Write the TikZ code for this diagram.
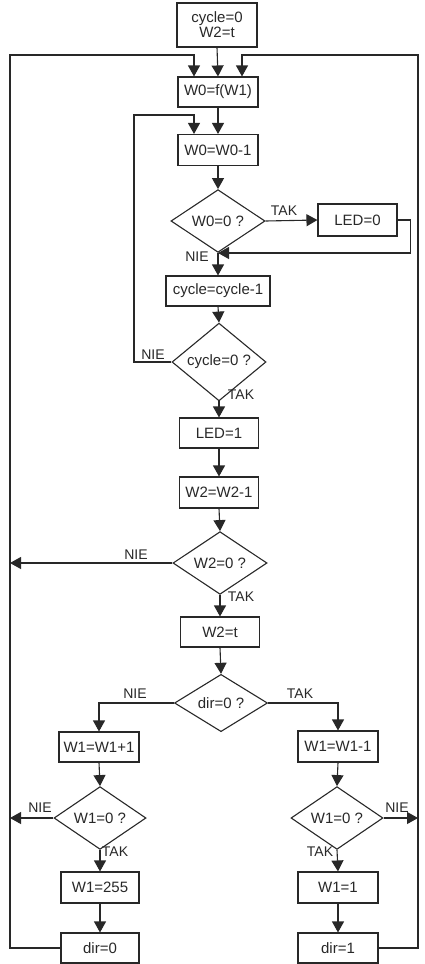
\documentclass[tikz,border=0pt]{standalone}
\usepackage{fontspec}
\setmainfont{Liberation Sans}
\usetikzlibrary{shapes.geometric,arrows.meta}
\definecolor{ink}{RGB}{40,40,40}
\tikzset{
  box/.style={draw=ink, line width=1.1pt, rectangle, minimum width=80pt, minimum height=30pt, inner sep=0pt, text=ink, font=\fontsize{15}{17}\selectfont},
  cond/.style={draw=ink, line width=1.1pt, diamond, minimum width=94pt, minimum height=51pt, inner sep=0pt, text=ink, font=\fontsize{15}{17}\selectfont},
  arr/.style={draw=ink, line width=1.1pt, -{Triangle[width=12pt,length=11pt]}},
  ln/.style={draw=ink, line width=1.1pt},
  lbl/.style={text=ink, font=\fontsize{14}{16}\selectfont, inner sep=0pt}
}
\begin{document}
\begin{tikzpicture}[x=1pt,y=-1pt]
\useasboundingbox[fill=white] (0,0) rectangle (424,964);
% nodes
\node[box, minimum height=44pt, align=center] (start) at (217,25) {cycle=0\\[-2pt]W2=t};
\node[box] (f) at (218,92) {W0=f(W1)};
\node[box, minimum height=31pt] (dec0) at (218,150) {W0=W0-1};
\node[cond, minimum height=52pt] (d1) at (218,221) {W0=0 ?};
\node[box, minimum width=79pt, minimum height=32pt] (led0) at (357.5,220) {LED=0};
\node[box, minimum width=104pt] (cyc) at (218,291) {cycle=cycle-1};
\node[cond] (d2) at (219,362) {cycle=0 ?};
\node[box, minimum width=79pt] (led1) at (219,433) {LED=1};
\node[box, minimum width=79pt, minimum height=31pt] (w2dec) at (219,492.5) {W2=W2-1};
\node[cond, minimum height=49pt] (d3) at (220,563) {W2=0 ?};
\node[box, minimum width=79pt] (w2t) at (220,632) {W2=t};
\node[cond, minimum width=93pt, minimum height=50pt] (d4) at (221,703) {dir=0 ?};
\node[box, minimum height=30pt] (inc) at (99,747) {W1=W1+1};
\node[box, minimum height=31pt] (dec1) at (338,746.5) {W1=W1-1};
\node[cond, minimum width=92pt, minimum height=50pt] (d5) at (100,818) {W1=0 ?};
\node[cond, minimum width=92pt, minimum height=50pt] (d6) at (337,818) {W1=0 ?};
\node[box, minimum width=78pt, minimum height=31pt] (w255) at (100,887.5) {W1=255};
\node[box, minimum height=31pt] (w11) at (338,887.5) {W1=1};
\node[box, minimum width=78pt] (dir0) at (100,948) {dir=0};
\node[box] (dir1) at (338,948) {dir=1};
% coordinates
\coordinate (LT) at (10,55);
\coordinate (RT) at (418,55);
\coordinate (IL) at (134,115);
\coordinate (J) at (218,253);
\coordinate (L3) at (10,563);
\coordinate (L5) at (10,818);
\coordinate (R6) at (418,818);
% connectors
\draw[arr] (start.south) -- (f.north);
\draw[arr] (dir0.west) -| (LT) -| ([xshift=-24pt]f.north);
\draw[arr] (dir1.east) -| (RT) -| ([xshift=24pt]f.north);
\draw[arr] (f.south) -- (dec0.north);
\draw[arr] (d2.west) -| (IL) -| ([xshift=-24pt]dec0.north);
\draw[arr] (dec0.south) -- (d1.north);
\draw[arr] (d1.east) -- (led0.west);
\draw[arr] (led0.east) -- ++(13,0) |- (J);
\draw[arr] (d1.south) -- (cyc.north);
\draw[arr] (cyc.south) -- (d2.north);
\draw[arr] (d2.south) -- (led1.north);
\draw[arr] (led1.south) -- (w2dec.north);
\draw[arr] (w2dec.south) -- (d3.north);
\draw[arr] (d3.west) -- (L3);
\draw[arr] (d3.south) -- (w2t.north);
\draw[arr] (w2t.south) -- (d4.north);
\draw[arr] (d4.west) -| (inc.north);
\draw[arr] (d4.east) -| (dec1.north);
\draw[arr] (inc.south) -- (d5.north);
\draw[arr] (dec1.south) -- (d6.north);
\draw[arr] (d5.west) -- (L5);
\draw[arr] (d6.east) -- (R6);
\draw[arr] (d5.south) -- (w255.north);
\draw[arr] (d6.south) -- (w11.north);
\draw[arr] (w255.south) -- (dir0.north);
\draw[arr] (w11.south) -- (dir1.north);
% labels
\node[lbl] (t1) at (284,211) {TAK};
\node[lbl] (n1) at (197,257) {NIE};
\node[lbl] (n2) at (153,355) {NIE};
\node[lbl] (t2) at (241,395) {TAK};
\node[lbl] (n3) at (136,555) {NIE};
\node[lbl] (t3) at (241,597) {TAK};
\node[lbl] (n4) at (135,694) {NIE};
\node[lbl] (t4) at (300,694) {TAK};
\node[lbl] (n5) at (40,808) {NIE};
\node[lbl] (t5) at (115,852) {TAK};
\node[lbl] (n6) at (397,808) {NIE};
\node[lbl] (t6) at (320,852) {TAK};
\end{tikzpicture}
\end{document}
